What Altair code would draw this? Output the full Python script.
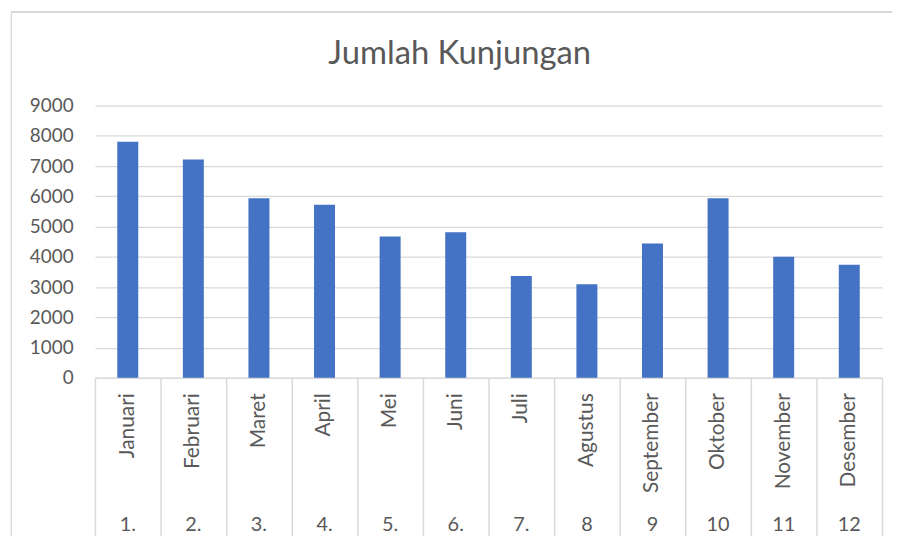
import altair as alt
import pandas as pd

months = ["Januari", "Februari", "Maret", "April", "Mei", "Juni", "Juli",
          "Agustus", "September", "Oktober", "November", "Desember"]
numbers = ["1.", "2.", "3.", "4.", "5.", "6.", "7.", "8", "9", "10", "11", "12"]
visits = [7800, 7220, 5940, 5720, 4670, 4810, 3370, 3090, 4440, 5940, 4000, 3740]
y_ticks = [0, 1000, 2000, 3000, 4000, 5000, 6000, 7000, 8000, 9000]

df = pd.DataFrame({"bulan": months, "no": numbers, "jumlah": visits})

W, H = 792, 274
FONT = "Lato"
TXT = "#595959"
GRID = "#d9d9d9"

num_expr = "[" + ",".join(f"'{n}'" for n in numbers) + "][indexof([" + \
    ",".join(f"'{m}'" for m in months) + "], datum.value)]"

xscale = alt.Scale(domain=months, paddingInner=0.68, paddingOuter=0.34)
xscale_sep = alt.Scale(domain=months, paddingInner=0, paddingOuter=0)

bars = alt.Chart(df).mark_bar(color="#4472C4").encode(
    x=alt.X("bulan:N", sort=months, scale=xscale, title=None,
            axis=alt.Axis(orient="bottom", labelAngle=270, labelAlign="right",
                          labelBaseline="middle",
                          labelPadding=15, ticks=False, domain=True,
                          domainColor=GRID, domainWidth=1.5,
                          labelFont=FONT, labelFontSize=21, labelColor=TXT, grid=False)),
    y=alt.Y("jumlah:Q", scale=alt.Scale(domain=[0, 9000], nice=False), title=None,
            axis=alt.Axis(values=y_ticks, format="d", domain=False, ticks=False,
                          labelPadding=22,
                          labelFont=FONT, labelFontSize=19, labelColor=TXT,
                          gridColor=GRID, gridWidth=1.3)),
)

nums = alt.Chart(df).mark_bar(opacity=0).encode(
    x=alt.X("bulan:N", sort=months, scale=xscale, title=None,
            axis=alt.Axis(orient="bottom", labelAngle=0, labelAlign="center",
                          labelBaseline="top",
                          labelExpr=num_expr, labelPadding=138, ticks=False,
                          domain=False, labelFont=FONT, labelFontSize=20,
                          labelColor=TXT, grid=False)),
)

seps = alt.Chart(df).mark_bar(opacity=0).encode(
    x=alt.X("bulan:N", sort=months, scale=xscale_sep, title=None,
            axis=alt.Axis(orient="bottom", labels=False, ticks=True, tickBand="extent",
                          tickSize=159, tickColor=GRID, tickWidth=1.5, domain=False,
                          grid=False)),
)

frame_v = alt.Chart(df).mark_rule(color=GRID, strokeWidth=1).encode(
    x=alt.value(-84), y=alt.value(-94), y2=alt.value(H + 159))
frame_h = alt.Chart(df).mark_rule(color=GRID, strokeWidth=1).encode(
    x=alt.value(-84), x2=alt.value(W + 10), y=alt.value(-94))

chart = alt.layer(bars, nums, seps, frame_v, frame_h).resolve_scale(
    x="independent"
).resolve_axis(
    x="independent"
).properties(
    width=W, height=H,
    padding={"left": 2.5, "top": 1.5, "right": 0, "bottom": 0},
    title=alt.TitleParams("Jumlah Kunjungan", font=FONT, fontSize=33, color=TXT,
                          fontWeight="normal", anchor="middle", dx=-29, offset=-60),
).configure(background="white", view=alt.ViewConfig(stroke=None))

chart.save("out.html", embed_options={"renderer": "svg", "actions": False})
